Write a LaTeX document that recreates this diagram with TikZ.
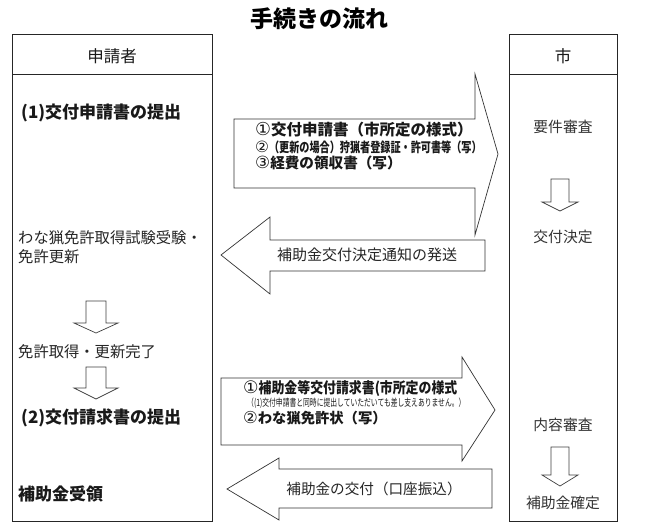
\documentclass[tikz,border=0pt]{standalone}
\usepackage{fontspec}
\setmainfont{Noto Sans CJK JP}
\newfontfamily\dvfont{DejaVu Sans}[Scale=1.15]
\newcommand{\cnum}[1]{{\dvfont\mdseries #1}}
\newcommand{\fs}[1]{\fontsize{#1}{#1}\selectfont}
\tikzset{
  panel/.style={draw=black!85, line width=0.8pt},
  bigarrow/.style={draw=black!80, fill=white, line width=0.7pt, line join=miter},
  downarrow/.style={draw=black!75, fill=white, line width=0.7pt},
  lbold/.style={anchor=west, inner sep=0pt, text=black!90, font=\bfseries\fs{17}},
  lreg/.style={anchor=west, inner sep=0pt, text=black!85, font=\fs{15.3}},
  rtext/.style={inner sep=0pt, text=black!80, font=\fs{14.8}},
  head/.style={inner sep=0pt, text=black!90, font=\fs{16.5}},
  atext/.style={anchor=west, inner sep=0pt, text=black!90},
}
\begin{document}
\begin{tikzpicture}[x=1pt,y=-1pt]
\useasboundingbox (0,0) rectangle (650,524);
\fill[white] (0,0) rectangle (650,524);

% title
\node[inner sep=0pt, font=\bfseries\fs{23}, text=black] (title) at (319,19) {手続きの流れ};

% panels
\draw[panel] (12,34) rectangle (212,521);
\draw[panel] (12,74) -- (212,74);
\node[head] (hleft) at (112,56) {申請者};
\draw[panel] (509,34) rectangle (617,521);
\draw[panel] (509,74) -- (617,74);
\node[head] (hright) at (563,56) {市};

% big arrows
\draw[bigarrow] (234,119) -- (475,119) -- (475,74) -- (498,154) -- (475,235) -- (475,188) -- (234,188) -- cycle;
\draw[bigarrow] (485,240) -- (270,240) -- (270,217) -- (221,255) -- (270,294) -- (270,271) -- (485,271) -- cycle;
\draw[bigarrow] (221,378) -- (462,378) -- (462,357) -- (495,410) -- (462,461) -- (462,445) -- (221,445) -- cycle;
\draw[bigarrow] (492,469) -- (279,469) -- (279,458) -- (227,489) -- (279,520) -- (279,508) -- (492,508) -- cycle;

% arrow texts
\node[atext, font=\bfseries\fs{15.5}] (a1l1) at (255,130) {\cnum{①}交付申請書（市所定の様式）};
\node[atext, font=\bfseries\fs{13.5}] (a1l2) at (255,147) {\cnum{②}\scalebox{0.75}[1]{（更新の場合）狩猟者登録証・許可書等（写）}};
\node[atext, font=\bfseries\fs{14.6}] (a1l3) at (255,163) {\cnum{③}経費の領収書（写）};

\node[inner sep=0pt, text=black!85, font=\fs{15}] (a2t) at (367,255) {補助金交付決定通知の発送};

\node[atext, font=\bfseries\fs{15}] (a3l1) at (243,389) {\cnum{①}\scalebox{0.86}[1]{補助金等交付請求書(市所定の様式}};
\node[atext, font=\fs{10}] (a3l2) at (247,403.5) {\scalebox{0.68}[1]{（(1)交付申請書と同時に提出していただいても差し支えありません。）}};
\node[atext, font=\bfseries\fs{14.3}] (a3l3) at (243,418) {\cnum{②}わな猟免許状（写）};

\node[inner sep=0pt, text=black!85, font=\fs{14.6}] (a4t) at (374,489) {補助金の交付（口座振込）};

% left column texts
\node[lbold] (s1) at (21,113) {(1)交付申請書の提出};
\node[lreg] (s2a) at (18,238) {わな猟免許取得試験受験・};
\node[lreg] (s2b) at (18,257) {免許更新};
\node[lreg] (s3) at (18,352) {免許取得・更新完了};
\node[lbold] (s4) at (21,418) {(2)交付請求書の提出};
\node[lbold] (s5) at (18,494) {補助金受領};

% left small arrows
\draw[downarrow] (86,301) -- (106,301) -- (106,323) -- (118,323) -- (96,333) -- (74,323) -- (86,323) -- cycle;
\draw[downarrow] (86,367) -- (106,367) -- (106,388) -- (118,388) -- (96,399) -- (74,388) -- (86,388) -- cycle;

% right column texts
\node[rtext] (r1) at (563,127) {要件審査};
\node[rtext] (r2) at (563,237) {交付決定};
\node[rtext] (r3) at (563,425) {内容審査};
\node[rtext] (r4) at (563,503) {補助金確定};

% right small arrows
\draw[downarrow] (551,179) -- (569,179) -- (569,202) -- (578,202) -- (560,211) -- (542,202) -- (551,202) -- cycle;
\draw[downarrow] (551,447) -- (569,447) -- (569,475) -- (578,475) -- (560,486) -- (542,475) -- (551,475) -- cycle;
\end{tikzpicture}
\end{document}
